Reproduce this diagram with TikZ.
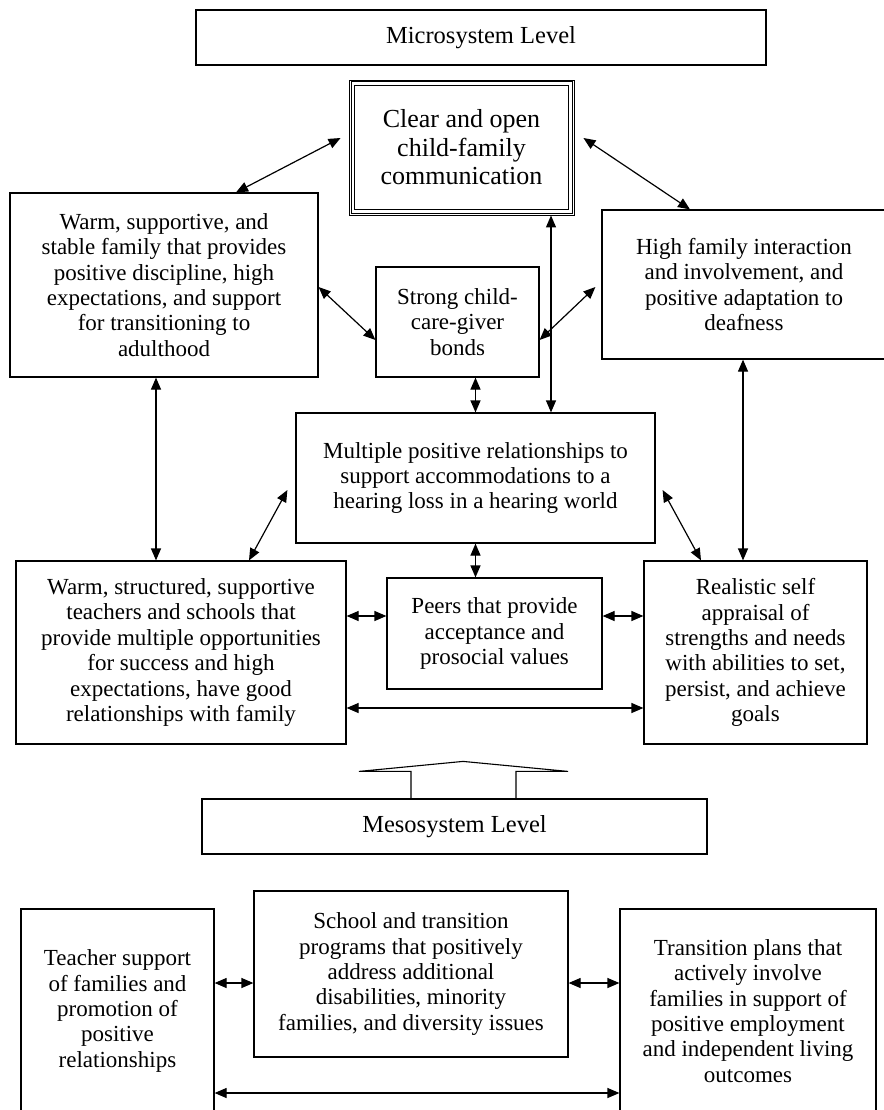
\documentclass[tikz,border=0pt]{standalone}
\usepackage{fontspec}
\setmainfont{Liberation Serif}
\usetikzlibrary{arrows.meta,calc}
\begin{document}
\begin{tikzpicture}[x=1pt,y=1pt,
 box/.style={draw, line width=1.2pt, align=center, inner sep=0pt, font=\fontsize{23}{25.4}\selectfont},
 lvl/.style={box, font=\fontsize{24.5}{27}\selectfont},
 biarrow/.style={line width=1.2pt, {Triangle[length=12pt,width=10pt]}-{Triangle[length=12pt,width=10pt]}},
 hollow/.style={line width=1.1pt},
]
\fill[white] (0,0) rectangle (883,-1110);
\useasboundingbox (0,0) rectangle (883,-1110);

\node[lvl, minimum width=570pt, minimum height=55pt] (micro) at (481,-37.5) {Microsystem Level};

\node[box, font=\fontsize{26}{28.5}\selectfont, minimum width=225pt, minimum height=135pt, line width=0.9pt] (clear) at (461.5,-147.5) {Clear and open\\child-family\\communication};
\draw[line width=0.9pt] ([shift={(2.4pt,-2.4pt)}]clear.north west) rectangle ([shift={(-2.4pt,2.4pt)}]clear.south east);
\draw[line width=1pt] ([shift={(5.5pt,-5.5pt)}]clear.north west) rectangle ([shift={(-5.5pt,5.5pt)}]clear.south east);

\node[box, minimum width=308pt, minimum height=184pt] (family) at (164,-285) {Warm, supportive, and\\stable family that provides\\positive discipline, high\\expectations, and support\\for transitioning to\\adulthood};
\node[box, minimum width=284pt, minimum height=149pt] (high) at (744,-284.5) {High family interaction\\and involvement, and\\positive adaptation to\\deafness};
\node[box, minimum width=163pt, minimum height=110pt] (strong) at (457.5,-322) {Strong child-\\care-giver\\bonds};
\node[box, minimum width=359pt, minimum height=130pt] (multiple) at (475.5,-478) {Multiple positive relationships to\\support accommodations to a\\hearing loss in a hearing world};
\node[box, minimum width=330pt, minimum height=183pt] (wstruct) at (181,-652.5) {Warm, structured, supportive\\teachers and schools that\\provide multiple opportunities\\for success and high\\expectations, have good\\relationships with family};
\node[box, minimum width=215pt, minimum height=111pt] (peers) at (494.5,-633.5) {Peers that provide\\acceptance and\\prosocial values};
\node[box, minimum width=223pt, minimum height=183pt] (real) at (755.5,-652.5) {Realistic self\\appraisal of\\strengths and needs\\with abilities to set,\\persist, and achieve\\goals};

\node[lvl, minimum width=505pt, minimum height=55pt] (meso) at (454.5,-826.5) {Mesosystem Level};

\node[box, minimum width=314pt, minimum height=166pt] (school) at (411,-974) {School and transition\\programs that positively\\address additional\\disabilities, minority\\families, and diversity issues};
\node[box, minimum width=193pt, minimum height=204pt] (teacher) at (117.5,-1011) {Teacher support\\of families and\\promotion of\\positive\\relationships};
\node[box, minimum width=256pt, minimum height=204pt] (trans) at (748,-1011) {Transition plans that\\actively involve\\families in support of\\positive employment\\and independent living\\outcomes};

% connectors
\draw[biarrow] ([xshift=72pt]family.north) -- ([shift={(-8pt,9.5pt)}]clear.west);
\draw[biarrow] ([shift={(9pt,9.5pt)}]clear.east) -- ([xshift=-54pt]high.north);
\draw[biarrow] ([xshift=89.5pt]clear.south) -- ([xshift=89.5pt]clear.south |- multiple.north);
\draw[biarrow] ([yshift=-2pt]family.east) -- ([yshift=-18pt]strong.west);
\draw[biarrow] ([shift={(-6pt,-2.5pt)}]high.west) -- ([yshift=-18pt]strong.east);
\draw[biarrow] (multiple.north |- strong.south) -- (multiple.north);
\draw[biarrow] (multiple.south) -- (multiple.south |- peers.north);
\draw[biarrow] ([xshift=-8pt]family.south) -- ([xshift=-8pt]family.south |- wstruct.north);
\draw[biarrow] ([xshift=-1pt]high.south) -- ([xshift=-1pt]high.south |- real.north);
\draw[biarrow] ([shift={(-8pt,-12pt)}]multiple.west) -- ([xshift=68pt]wstruct.north);
\draw[biarrow] ([shift={(7pt,-12pt)}]multiple.east) -- ([xshift=-54.5pt]real.north);
\draw[biarrow] ([yshift=36.5pt]wstruct.east) -- ([yshift=36.5pt]wstruct.east -| peers.west);
\draw[biarrow] ([yshift=36.5pt]wstruct.east -| peers.east) -- ([yshift=36.5pt]wstruct.east -| real.west);
\draw[biarrow] ([yshift=-55.5pt]wstruct.east) -- ([yshift=-55.5pt]wstruct.east -| real.west);
\draw[biarrow] ([yshift=-9pt]school.west -| teacher.east) -- ([yshift=-9pt]school.west);
\draw[biarrow] ([yshift=-9pt]school.east) -- ([yshift=-9pt]school.east -| trans.west);
\draw[biarrow] ([yshift=-82pt]teacher.east) -- ([yshift=-82pt]teacher.east -| trans.west);

% hollow block arrow from mesosystem to microsystem
\draw[hollow] ([xshift=-43.5pt]meso.north) -- ++(0,27) -- ++(-52,0) -- ([shift={(8.5pt,37pt)}]meso.north) -- ([shift={(113.5pt,27pt)}]meso.north) -- ++(-52,0) -- ++(0,-27);
\end{tikzpicture}
\end{document}
